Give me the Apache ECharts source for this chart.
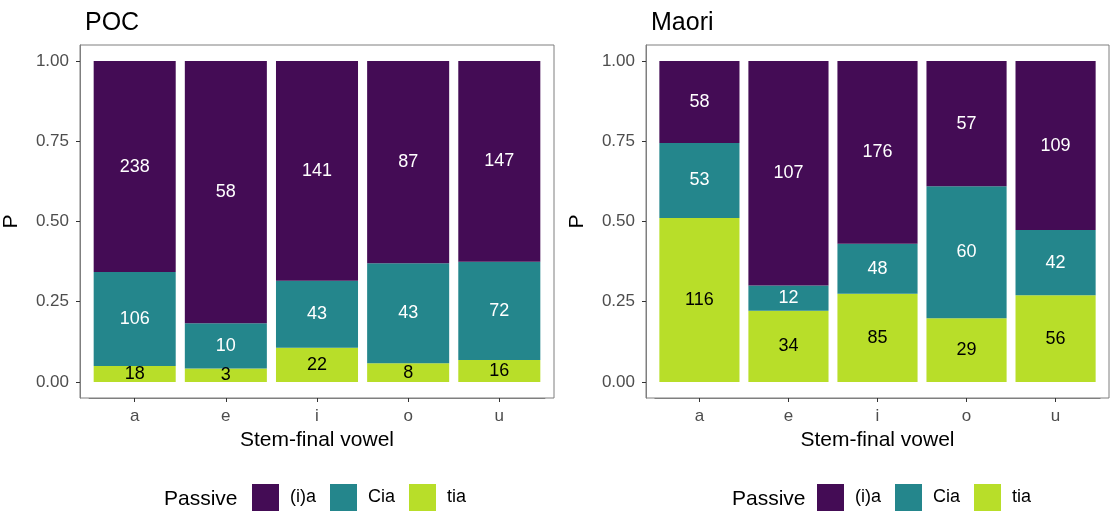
<!DOCTYPE html>
<html><head><meta charset="utf-8">
<script src="https://cdn.jsdelivr.net/npm/echarts@6/dist/echarts.min.js"></script>
<style>html,body{margin:0;padding:0;background:#fff}#c{width:1110px;height:512px}</style>
</head><body><div id="c"></div>
<script>
const vowels = ['a','e','i','o','u'];
const passives = ['(i)a','Cia','tia'];
const pocIa = [238,58,141,87,147];
const pocCia = [106,10,43,43,72];
const pocTia = [18,3,22,8,16];
const maoriIa = [58,107,176,57,109];
const maoriCia = [53,12,48,60,42];
const maoriTia = [116,34,85,29,56];
const yTicks = [0,0.25,0.5,0.75,1];
const colors = {'(i)a':'#440C55','Cia':'#24868C','tia':'#B8DE29'};
const labelColors = {'(i)a':'#ffffff','Cia':'#ffffff','tia':'#000000'};

const FONT = 'Liberation Sans, Arial, sans-serif';
const chart = echarts.init(document.getElementById('c'));

const panels = [
  {title:'POC', counts:{'(i)a':pocIa,'Cia':pocCia,'tia':pocTia}, left:80, width:474, legendLeft:252, titleLeft:164},
  {title:'Maori', counts:{'(i)a':maoriIa,'Cia':maoriCia,'tia':maoriTia}, left:646, width:463, legendLeft:817, titleLeft:732}
];
const TOP = 45, HEIGHT = 353;

const grids=[], xAxes=[], yAxes=[], series=[], legends=[], graphics=[], titles=[];
panels.forEach((p, pi) => {
  const unit = p.width / 5.2;
  const gBorder = grids.length;
  grids.push({show:true, borderColor:'#7f7f7f', borderWidth:1, backgroundColor:'transparent', left:p.left, top:TOP, width:p.width, height:HEIGHT});
  xAxes.push({type:'value', gridIndex:gBorder, show:false, min:0, max:1});
  yAxes.push({type:'value', gridIndex:gBorder, min:-0.05, max:1.05,
    name:'P', nameLocation:'middle', nameGap:58, nameRotate:90,
    nameTextStyle:{fontFamily:FONT, fontSize:21, color:'#000'},
    axisLine:{show:true, onZero:false, lineStyle:{color:'#7f7f7f', width:1}}, splitLine:{show:false},
    axisTick:{show:true, customValues:yTicks, length:4, lineStyle:{color:'#333'}},
    axisLabel:{customValues:yTicks, formatter:v=>v.toFixed(2), fontFamily:FONT, fontSize:17, color:'#4d4d4d', margin:11}
  });
  const gBar = grids.length;
  grids.push({show:false, left:p.left + 0.1*unit, top:TOP, width:5*unit, height:HEIGHT});
  xAxes.push({type:'category', gridIndex:gBar, data:vowels,
    name:'Stem-final vowel', nameLocation:'middle', nameGap:30,
    nameTextStyle:{fontFamily:FONT, fontSize:21, color:'#000'},
    axisLine:{show:true, onZero:false, lineStyle:{color:'#7f7f7f', width:1}}, splitLine:{show:false},
    axisTick:{show:true, alignWithLabel:true, length:4, lineStyle:{color:'#333'}},
    axisLabel:{fontFamily:FONT, fontSize:17, color:'#4d4d4d', margin:10}
  });
  yAxes.push({type:'value', gridIndex:gBar, show:false, min:-0.05, max:1.05, splitLine:{show:false}});
  titles.push({text:p.title, left:p.left, top:6, textStyle:{fontFamily:FONT, fontSize:25, fontWeight:'normal', color:'#000'}});
  const totals = vowels.map((v,i)=>passives.reduce((s,k)=>s+p.counts[k][i],0));
  ['tia','Cia','(i)a'].forEach(k => {
    series.push({type:'bar', name:k, xAxisIndex:gBar, yAxisIndex:gBar, stack:'s'+pi, barWidth:'90%',
      itemStyle:{color:colors[k]},
      label:{show:true, position:'inside', fontFamily:FONT, fontSize:18, color:labelColors[k],
        formatter: d => String(d.data.count)},
      data: vowels.map((v,i)=>({value:p.counts[k][i]/totals[i], count:p.counts[k][i]}))
    });
  });
  legends.push({data:passives, left:p.legendLeft, top:484, padding:0, orient:'horizontal', itemWidth:27, itemHeight:27, itemGap:14,
    icon:'rect', selectedMode:false,
    textStyle:{fontFamily:FONT, fontSize:18, color:'#000', padding:[5,0,0,6]}});
  graphics.push({type:'text', left:p.titleLeft, top:489, style:{text:'Passive', font:'21px '+FONT, fill:'#000'}});
});

chart.setOption({
  animation:false,
  title:titles, grid:grids, xAxis:xAxes, yAxis:yAxes, series:series, legend:legends, graphic:graphics
});
</script></body></html>
